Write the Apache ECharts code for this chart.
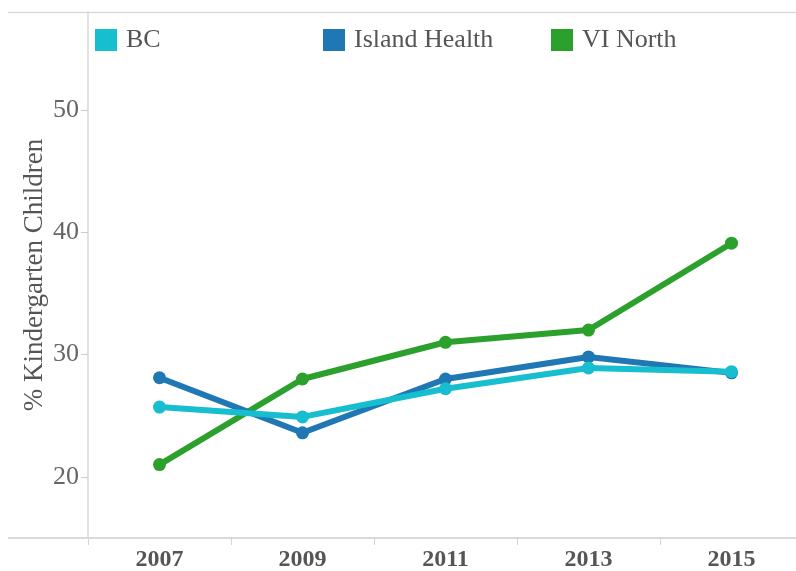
<!DOCTYPE html>
<html>
<head>
<meta charset="utf-8">
<script src="https://cdn.jsdelivr.net/npm/echarts@6/dist/echarts.min.js"></script>
<style>
  html, body { margin: 0; padding: 0; background: #fff; }
  #main { width: 796px; height: 571px; }
</style>
</head>
<body>
<div id="main"></div>
<script>
// years on the x axis
const years = ['2007', '2009', '2011', '2013', '2015'];
const yTicks = [20, 30, 40, 50];

const seriesNames = ['BC', 'Island Health', 'VI North'];
const bcData = [25.7, 24.9, 27.2, 28.9, 28.6];
const islandData = [28.1, 23.6, 28.0, 29.8, 28.5];
const northData = [21.0, 28.0, 31.0, 32.0, 39.1];

const serif = '"Liberation Serif", "DejaVu Serif", serif';
const colors = ['#17becf', '#1f77b4', '#2ca02c'];

const chart = echarts.init(document.getElementById('main'), null, { renderer: 'canvas' });

function makeSeries(name, data, color) {
  return {
    name: name,
    type: 'line',
    data: data,
    symbol: 'circle',
    symbolSize: 13,
    lineStyle: { width: 6, color: color },
    itemStyle: { color: color },
    emphasis: { disabled: true }
  };
}

// one legend per entry so they sit at fixed spacing
function makeLegend(name, left) {
  return {
    left: left,
    top: 27,
    padding: 0,
    itemWidth: 22,
    itemHeight: 22,
    itemGap: 0,
    icon: 'rect',
    textStyle: { fontFamily: serif, fontSize: 26, color: '#555', padding: [0, 0, 0, 4] },
    data: [name]
  };
}

var option = {
  animation: false,
  color: colors,
  legend: [
    makeLegend(seriesNames[0], 95),
    makeLegend(seriesNames[1], 323),
    makeLegend(seriesNames[2], 551)
  ],
  grid: {
    left: 88,
    top: 12,
    width: 715,
    bottom: 33,
    outerBoundsMode: 'none'
  },
  xAxis: {
    type: 'category',
    data: years,
    boundaryGap: true,
    axisLine: { lineStyle: { color: '#d9d9d9', width: 2 } },
    axisTick: { show: true, length: 7, lineStyle: { color: '#d4d4d4' } },
    axisLabel: {
      fontFamily: serif,
      fontWeight: 'bold',
      fontSize: 24,
      color: '#555',
      margin: 10
    }
  },
  yAxis: {
    type: 'value',
    min: 15,
    max: 58,
    name: '% Kindergarten Children',
    nameLocation: 'middle',
    nameGap: 40,
    nameMoveOverlap: false,
    nameTextStyle: { fontFamily: serif, fontSize: 27, color: '#555' },
    splitLine: { show: false },
    axisLine: { show: true, lineStyle: { color: '#d9d9d9', width: 1.5 } },
    axisTick: { show: true, length: 7, customValues: yTicks, lineStyle: { color: '#ccc' } },
    axisLabel: {
      customValues: yTicks,
      fontFamily: serif,
      fontSize: 26,
      color: '#666',
      margin: 9
    }
  },
  graphic: [
    // lines running past the plot on the left
    { type: 'line', shape: { x1: 8, y1: 12.5, x2: 796, y2: 12.5 }, style: { stroke: '#dcdcdc', lineWidth: 1.5 } },
    { type: 'line', shape: { x1: 8, y1: 538, x2: 88, y2: 538 }, style: { stroke: '#d9d9d9', lineWidth: 2 } }
  ],
  series: [
    makeSeries(seriesNames[0], bcData, colors[0]),
    makeSeries(seriesNames[1], islandData, colors[1]),
    makeSeries(seriesNames[2], northData, colors[2])
  ]
};

// draw order: VI North under, then Island Health, BC on top
option.series[0].z = 4;
option.series[1].z = 3;
option.series[2].z = 2;

chart.setOption(option);
</script>
</body>
</html>
